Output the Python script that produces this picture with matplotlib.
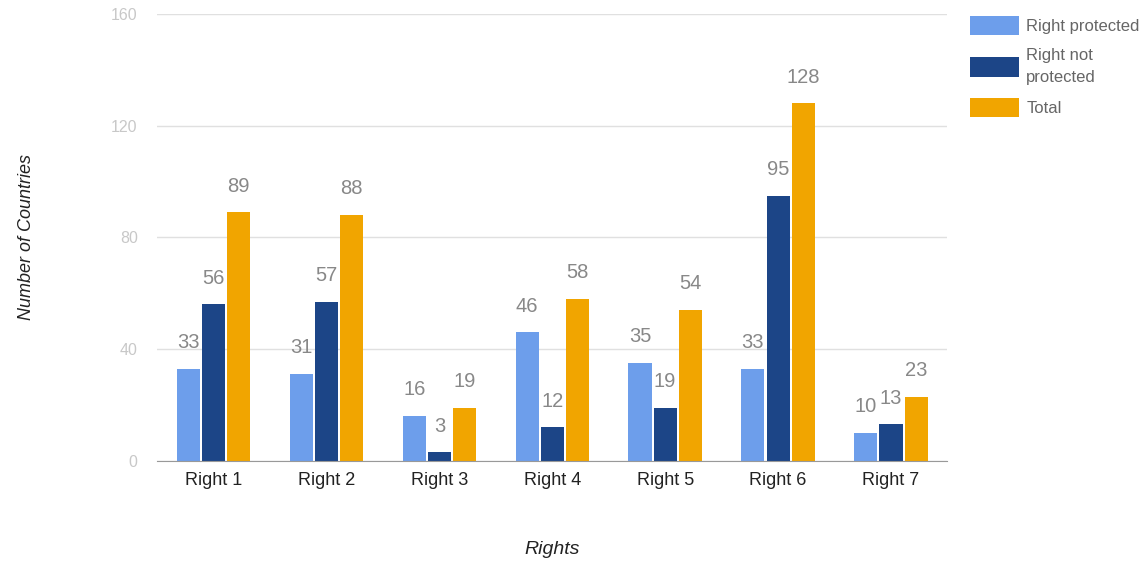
import matplotlib.pyplot as plt
import numpy as np

plt.rcParams['font.family'] = ['Liberation Sans', 'DejaVu Sans']

# Data
rights = ['Right 1', 'Right 2', 'Right 3', 'Right 4', 'Right 5', 'Right 6', 'Right 7']
protected = [33, 31, 16, 46, 35, 33, 10]
not_protected = [56, 57, 3, 12, 19, 95, 13]
total = [89, 88, 19, 58, 54, 128, 23]

series = [
    ('Right protected', protected, '#6d9eeb'),
    ('Right not\nprotected', not_protected, '#1c4587'),
    ('Total', total, '#f1a500'),
]

fig = plt.figure(figsize=(11.47, 5.64), dpi=100)
ax = fig.add_axes([0.137, 0.183, 0.689, 0.792])

x = np.arange(len(rights))
bw = 0.205
gap = 0.018
for i, (name, vals, col) in enumerate(series):
    pos = x + (i - 1) * (bw + gap)
    bars = ax.bar(pos, vals, width=bw, color=col, label=name, zorder=3)
    for b, v in zip(bars, vals):
        ax.text(b.get_x() + b.get_width() / 2, v + 6, str(v),
                ha='center', va='bottom', fontsize=14.5, color='#888888')

ax.set_xlim(-0.5, len(rights) - 0.5)
ax.set_ylim(0, 160)
ax.set_yticks([0, 40, 80, 120, 160])
ax.set_xticks(x)
ax.set_xticklabels(rights, fontsize=13, color='#222222')
ax.tick_params(axis='y', colors='#c8c8c8', labelsize=11.5, length=0, pad=14)
ax.tick_params(axis='x', length=0, pad=8)
ax.yaxis.grid(True, color='#e0e0e0', linewidth=1, zorder=0)
for s in ['top', 'right', 'left']:
    ax.spines[s].set_visible(False)
ax.spines['bottom'].set_color('#999999')
ax.spines['bottom'].set_zorder(4)

ax.set_ylabel('Number of Countries', fontsize=13, style='italic', color='#222222')
ax.yaxis.set_label_coords(-0.155, 0.5)
ax.set_xlabel('Rights', fontsize=14, style='italic', color='#222222')
ax.xaxis.set_label_coords(0.5, -0.18)

leg = fig.legend(loc='upper left', bbox_to_anchor=(0.833, 0.998), frameon=False,
                 fontsize=12, handlelength=2.9, handleheight=1.4, labelcolor='#666666',
                 labelspacing=0.75, handletextpad=0.45)
for t in leg.get_texts():
    t.set_linespacing(1.6)

fig.savefig('out.png', dpi=100)
